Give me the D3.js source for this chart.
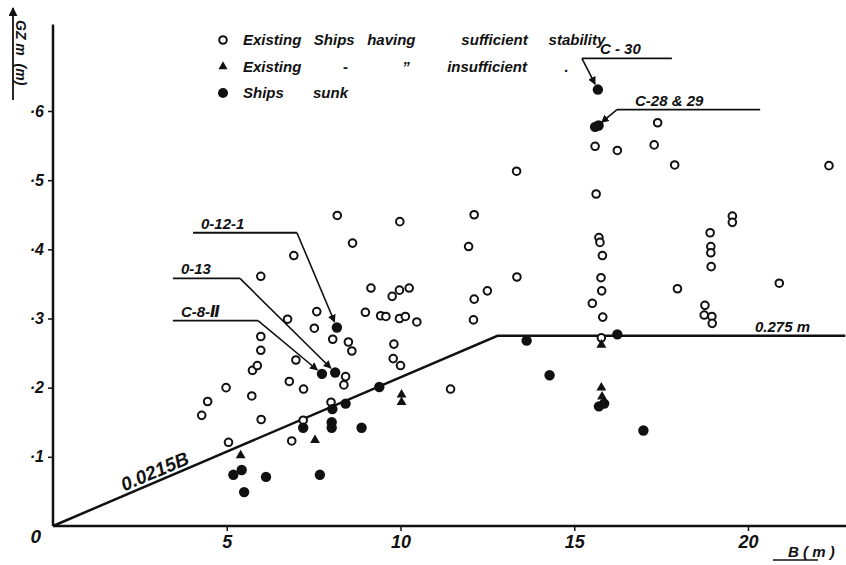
<!DOCTYPE html>
<html>
<head>
<meta charset="utf-8">
<script src="https://cdn.jsdelivr.net/npm/d3@7"></script>
<style>
  body { margin: 0; background: #fff; }
  text { font-family: "Liberation Sans", "DejaVu Sans", sans-serif; font-style: italic; font-weight: bold; fill: #111; }
</style>
</head>
<body>
<script>
// B (m), GZ (m)
const sufficient = [[4.28,0.16],[4.45,0.18],[4.98,0.20],[5.05,0.121],[5.72,0.188],[5.74,0.225],[5.88,0.232],
  [5.98,0.254],[5.98,0.274],[5.98,0.361],[5.99,0.154],[6.75,0.299],[6.8,0.209],[6.87,0.123],[6.93,0.391],
  [6.99,0.24],[7.2,0.153],[7.21,0.198],[7.52,0.286],[7.59,0.31],[8.0,0.179],[8.05,0.27],[8.18,0.449],
  [8.37,0.204],[8.42,0.216],[8.5,0.266],[8.6,0.253],[8.62,0.409],[8.99,0.309],[9.15,0.344],[9.43,0.304],
  [9.58,0.303],[9.76,0.332],[9.79,0.242],[9.81,0.263],[9.97,0.341],[9.97,0.30],[9.98,0.44],[10.0,0.232],
  [10.14,0.303],[10.25,0.344],[10.47,0.295],[11.44,0.198],[11.96,0.404],[12.1,0.298],[12.12,0.328],
  [12.12,0.45],[12.5,0.34],[13.34,0.513],[13.35,0.36],[15.52,0.322],[15.6,0.549],[15.63,0.48],[15.71,0.417],
  [15.74,0.41],[15.77,0.359],[15.78,0.272],[15.79,0.34],[15.81,0.391],[15.82,0.302],[16.24,0.543],
  [17.3,0.551],[17.4,0.583],[17.89,0.522],[17.97,0.343],[18.74,0.305],[18.76,0.319],[18.91,0.424],
  [18.93,0.404],[18.93,0.395],[18.94,0.375],[18.96,0.303],[18.97,0.293],[19.55,0.448],[19.55,0.439],
  [20.9,0.351],[22.33,0.521]];
const insufficient = [[5.4,0.102],[7.54,0.124],[10.03,0.19],[10.03,0.179],[15.78,0.262],[15.78,0.20],[15.8,0.187]];
const sunk = [[5.19,0.074],[5.43,0.081],[5.5,0.049],[6.13,0.071],[7.2,0.142],[7.68,0.074],[7.74,0.220],
  [8.02,0.15],[8.02,0.142],[8.04,0.169],[8.12,0.222],[8.17,0.287],[8.42,0.177],[8.88,0.142],[9.39,0.201],
  [13.63,0.268],[14.29,0.218],[15.6,0.577],[15.7,0.579],[15.68,0.631],[15.71,0.173],[15.86,0.177],
  [16.24,0.277],[16.99,0.138]];

// criterion: GZ = 0.0215 B, capped at 0.275 m
const criterionB = [0, 0.275 / 0.0215, 22.8];
const xTicks = [5, 10, 15, 20];
const yTicks = [0.1, 0.2, 0.3, 0.4, 0.5, 0.6];

// named ships: label, ship point, label line [B from, B to, GZ], which end the leader leaves from
const labels = [
  {text: "C - 30", pt: [15.68,0.631], line: [15.22,17.81,0.676], from: "left"},
  {text: "C-28 & 29", pt: [15.65,0.578], line: [16.23,20.35,0.602], from: "left"},
  {text: "0-12-1", pt: [8.17,0.287], line: [4.03,7.02,0.424], from: "right"},
  {text: "0-13", pt: [8.12,0.222], line: [3.45,5.38,0.358], from: "right"},
  {text: "C-8-\u2161", pt: [7.74,0.220], line: [3.45,5.9,0.297], from: "right"}
];

const legendRows = [
  {sym: "open", text: "Existing   Ships   having           sufficient     stability"},
  {sym: "tri", text: "Existing          -             \u201d         insufficient         ."},
  {sym: "sunk", text: "Ships       sunk"}
];

const W = 846, H = 565;
const svg = d3.select("body").append("svg").attr("width", W).attr("height", H);

const x = d3.scaleLinear().domain([0, 20]).range([53, 748]);
const y = d3.scaleLinear().domain([0, 0.6]).range([526, 111]);

// axes
svg.append("line").attr("x1", x(0)).attr("x2", W).attr("y1", y(0)).attr("y2", y(0))
  .attr("stroke", "#111").attr("stroke-width", 2.5);
svg.append("line").attr("x1", x(0)).attr("x2", x(0)).attr("y1", y(0)).attr("y2", y(0.725))
  .attr("stroke", "#111").attr("stroke-width", 2.5);

const xAxis = svg.append("g").attr("transform", `translate(0,${y(0)})`)
  .call(d3.axisBottom(x).tickValues(xTicks).tickSize(5).tickPadding(4).tickFormat(d3.format("d")));
xAxis.select(".domain").remove();
xAxis.selectAll("line").attr("stroke", "#111").attr("stroke-width", 1.5);
xAxis.selectAll("text").attr("font-size", 18).attr("fill", "#111")
  .style("font-family", "Liberation Sans").style("font-style", "italic").style("font-weight", "bold");

const yAxis = svg.append("g").attr("transform", `translate(${x(0)},0)`)
  .call(d3.axisLeft(y).tickValues(yTicks).tickSize(5).tickPadding(4).tickFormat(d => "\u00b7" + Math.round(d * 10)));
yAxis.select(".domain").remove();
yAxis.selectAll("line").attr("stroke", "#111").attr("stroke-width", 1.5);
yAxis.selectAll("text").attr("font-size", 16).attr("fill", "#111")
  .style("font-family", "Liberation Sans").style("font-style", "italic").style("font-weight", "bold");

svg.append("text").attr("x", x(0) - 12).attr("y", y(0) + 17).attr("text-anchor", "end")
  .attr("font-size", 19).text("0");

// axis titles
svg.append("defs").append("marker").attr("id", "arr").attr("viewBox", "0 0 10 10")
  .attr("refX", 9).attr("refY", 5).attr("markerWidth", 5).attr("markerHeight", 5).attr("orient", "auto")
  .append("path").attr("d", "M0,0L10,5L0,10z").attr("fill", "#111");
svg.append("line").attr("x1", 13).attr("x2", 13).attr("y1", 100).attr("y2", 8)
  .attr("stroke", "#111").attr("stroke-width", 1.8).attr("marker-end", "url(#arr)");
svg.append("text").attr("transform", "translate(16,20) rotate(90)").attr("font-size", 14)
  .style("white-space", "pre").text("GZ m  (m)");

svg.append("text").attr("x", 788).attr("y", 557).attr("font-size", 15).style("white-space", "pre").text("B ( m )");
svg.append("line").attr("x1", 773).attr("x2", 818).attr("y1", 560).attr("y2", 560).attr("stroke", "#111").attr("stroke-width", 1.5);

// criterion line
svg.append("path").datum(criterionB)
  .attr("d", d3.line().x(b => x(b)).y(b => y(Math.min(0.0215 * b, 0.275))))
  .attr("fill", "none").attr("stroke", "#111").attr("stroke-width", 2.5);

const slopeAng = Math.atan2(y(0.0215 * 4) - y(0), x(4) - x(0)) * 180 / Math.PI;
svg.append("text").attr("transform", `translate(${x(2.05)},${y(0.0215 * 2.05) - 4}) rotate(${slopeAng})`)
  .attr("font-size", 19).attr("font-weight", "normal").text("0.0215B");
svg.append("text").attr("x", x(20.2)).attr("y", y(0.275) - 4).attr("font-size", 15).text("0.275 m");

// leaders
labels.forEach(l => {
  const x1 = x(l.line[0]), x2 = x(l.line[1]), yy = y(l.line[2]);
  svg.append("line").attr("x1", x1).attr("x2", x2).attr("y1", yy).attr("y2", yy)
    .attr("stroke", "#111").attr("stroke-width", 1.8);
  svg.append("text").attr("x", x1 + (l.from === "left" ? 18 : 8)).attr("y", yy - 4)
    .attr("font-size", 15).text(l.text);
  const sx = l.from === "left" ? x1 : x2;
  const px = x(l.pt[0]), py = y(l.pt[1]);
  const d = Math.hypot(px - sx, py - yy), k = (d - 6) / d;
  svg.append("line").attr("x1", sx).attr("y1", yy)
    .attr("x2", sx + (px - sx) * k).attr("y2", yy + (py - yy) * k)
    .attr("stroke", "#111").attr("stroke-width", 1.6).attr("marker-end", "url(#arr)");
});

// points
svg.append("g").selectAll("circle").data(sufficient).join("circle")
  .attr("cx", d => x(d[0])).attr("cy", d => y(d[1])).attr("r", 3.8)
  .attr("fill", "#fff").attr("stroke", "#111").attr("stroke-width", 2);
svg.append("g").selectAll("circle").data(sunk).join("circle")
  .attr("cx", d => x(d[0])).attr("cy", d => y(d[1])).attr("r", 5.2)
  .attr("fill", "#111");
const tri = d3.symbol().type(d3.symbolTriangle).size(42);
svg.append("g").selectAll("path").data(insufficient).join("path")
  .attr("transform", d => `translate(${x(d[0])},${y(d[1])})`).attr("d", tri).attr("fill", "#111");

// legend
const lg = svg.append("g").attr("transform", "translate(223,40)");
legendRows.forEach((r, i) => {
  const g = lg.append("g").attr("transform", `translate(0,${i * 26.5})`);
  if (r.sym === "open") g.append("circle").attr("r", 3.8).attr("fill", "#fff").attr("stroke", "#111").attr("stroke-width", 2);
  else if (r.sym === "sunk") g.append("circle").attr("r", 5).attr("fill", "#111");
  else g.append("path").attr("d", d3.symbol().type(d3.symbolTriangle).size(36)()).attr("fill", "#111");
  g.append("text").attr("x", 20).attr("y", 5).attr("font-size", 15).style("white-space", "pre").text(r.text);
});
</script>
</body>
</html>
